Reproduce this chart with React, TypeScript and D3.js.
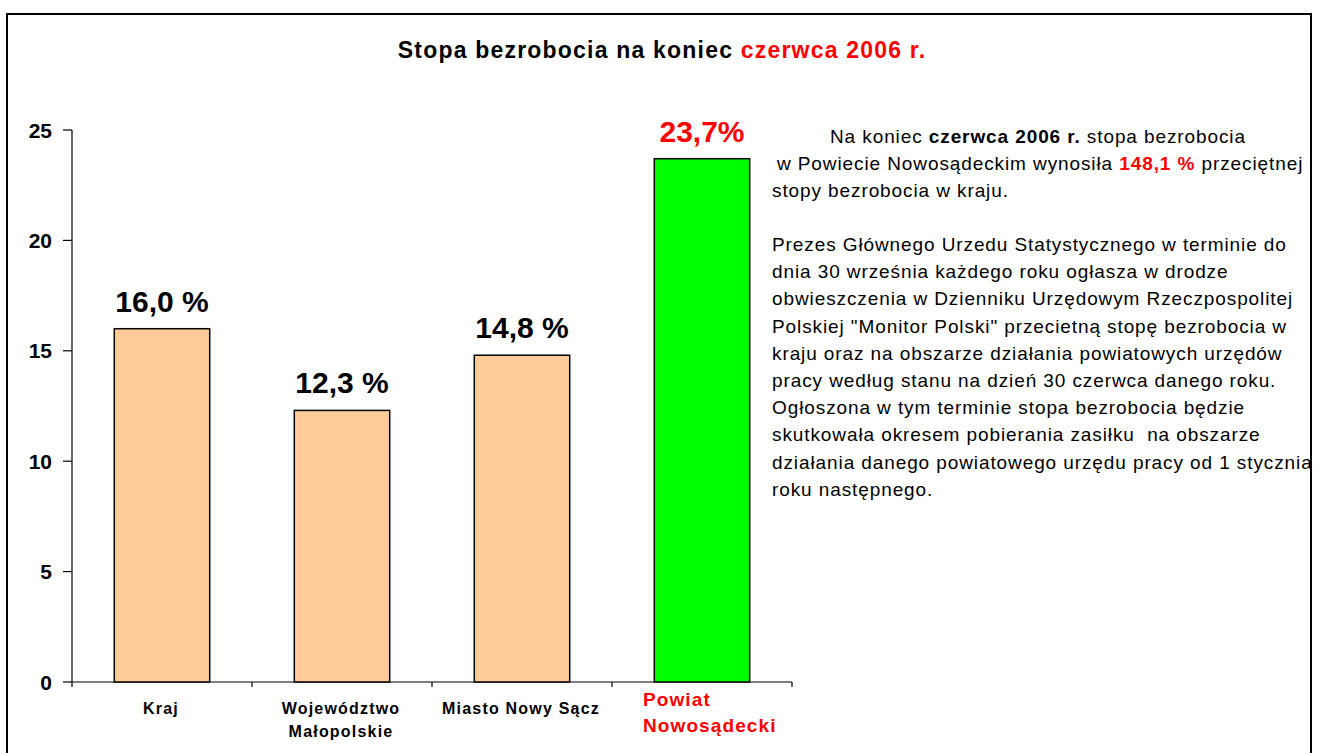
import * as d3 from "d3";

const categories = ["Kraj", "Województwo Małopolskie", "Miasto Nowy Sącz", "Powiat Nowosądecki"];
const categoryLines = [["Kraj"], ["Województwo", "Małopolskie"], ["Miasto Nowy Sącz"], ["Powiat", "Nowosądecki"]];
const values = [16.0, 12.3, 14.8, 23.7];
const valueLabels = ["16,0 %", "12,3 %", "14,8 %", "23,7%"];
const highlighted = [false, false, false, true];
const yTicks = [0, 5, 10, 15, 20, 25];

const noteParagraph = [
  "Prezes Głównego Urzedu Statystycznego w terminie do",
  "dnia 30 września każdego roku ogłasza w drodze",
  "obwieszczenia w Dzienniku Urzędowym Rzeczpospolitej",
  'Polskiej "Monitor Polski" przecietną stopę bezrobocia w',
  "kraju oraz na obszarze działania powiatowych urzędów",
  "pracy według stanu na dzień 30 czerwca danego roku.",
  "Ogłoszona w tym terminie stopa bezrobocia będzie",
  "skutkowała okresem pobierania zasiłku  na obszarze",
  "działania danego powiatowego urzędu pracy od 1 stycznia",
  "roku następnego.",
];

const FONT = "'Liberation Sans', Arial, sans-serif";
const RED = "#ff0000";

export default function App() {
  const width = 1320;
  const height = 753;
  const margin = { left: 72, right: 792, top: 130, bottom: 682 };

  // bars are ~95px wide inside 180px category slots
  const x = d3.scaleBand().domain(categories).range([margin.left, margin.right]).paddingInner(0.47).paddingOuter(0.235);
  const band = d3.scaleBand().domain(categories).range([margin.left, margin.right]);
  const y = d3.scaleLinear().domain([0, 25]).range([margin.bottom, margin.top]);

  return (
    <svg
      width={width}
      height={height}
      style={{ position: "absolute", left: 0, top: 0, background: "#fff" }}
      fontFamily={FONT}
    >
      <rect x={7} y={14} width={1304} height={760} fill="#fff" stroke="#000" strokeWidth={2} />

      {/* Title */}
      <text x={662} y={58} textAnchor="middle" fontSize={23} fontWeight="bold" letterSpacing={1.2} fill="#000">
        Stopa bezrobocia na koniec <tspan fill={RED}>czerwca 2006 r.</tspan>
      </text>

      {/* Y axis */}
      <line x1={margin.left} x2={margin.left} y1={y(25)} y2={y(0)} stroke="#000" strokeWidth={1.2} />
      {yTicks.map((t) => (
        <g key={t}>
          <line x1={margin.left - 9} x2={margin.left} y1={y(t)} y2={y(t)} stroke="#000" strokeWidth={1.2} />
          <text x={52} y={y(t) + 7.5} textAnchor="end" fontSize={21} fontWeight="bold">
            {t}
          </text>
        </g>
      ))}

      {/* X axis */}
      <line x1={margin.left} x2={margin.right} y1={y(0)} y2={y(0)} stroke="#000" strokeWidth={1.2} />
      {[...categories.map((c) => band(c) as number), margin.right].map((px, i) => (
        <line key={i} x1={px} x2={px} y1={y(0)} y2={y(0) + 5} stroke="#000" strokeWidth={1.2} />
      ))}

      {/* Bars */}
      {categories.map((c, i) => (
        <rect
          key={c}
          x={x(c)}
          y={y(values[i])}
          width={x.bandwidth()}
          height={y(0) - y(values[i])}
          fill={highlighted[i] ? "#00ff00" : "#ffcc99"}
          stroke="#000"
          strokeWidth={1.5}
        />
      ))}

      {/* Value labels */}
      {categories.map((c, i) => (
        <text
          key={c}
          x={(x(c) as number) + x.bandwidth() / 2}
          y={y(values[i]) - 17}
          textAnchor="middle"
          fontSize={30}
          fontWeight="bold"
          fill={highlighted[i] ? RED : "#000"}
        >
          {valueLabels[i]}
        </text>
      ))}

      {/* Category labels */}
      {categories.map((c, i) => {
        const cx = (band(c) as number) + band.bandwidth() / 2;
        const hl = highlighted[i];
        if (hl) {
          return (
            <text key={c} fontSize={19} fontWeight="bold" letterSpacing={1.1} fill={RED}>
              {categoryLines[i].map((ln, j) => (
                <tspan key={j} x={(band(c) as number) + 31} y={706 + j * 26}>
                  {ln}
                </tspan>
              ))}
            </text>
          );
        }
        return (
          <text key={c} textAnchor="middle" fontSize={16} fontWeight="bold" letterSpacing={1.2} fill="#000">
            {categoryLines[i].map((ln, j) => (
              <tspan key={j} x={cx - 1} y={714 + j * 23}>
                {ln}
              </tspan>
            ))}
          </text>
        );
      })}

      {/* Note text */}
      <g fontSize={19} letterSpacing={0.9} fill="#000">
        <text x={830} y={143}>
          Na koniec <tspan fontWeight="bold">czerwca 2006 r.</tspan> stopa bezrobocia
        </text>
        <text x={777} y={170}>
          w Powiecie Nowosądeckim wynosiła <tspan fontWeight="bold" fill={RED}>148,1 %</tspan>
          {"  "}przeciętnej
        </text>
        <text x={772} y={197}>stopy bezrobocia w kraju.</text>
        {noteParagraph.map((ln, i) => (
          <text key={i} x={772} y={251 + i * 27.2} xmlSpace="preserve">
            {ln}
          </text>
        ))}
      </g>
    </svg>
  );
}
